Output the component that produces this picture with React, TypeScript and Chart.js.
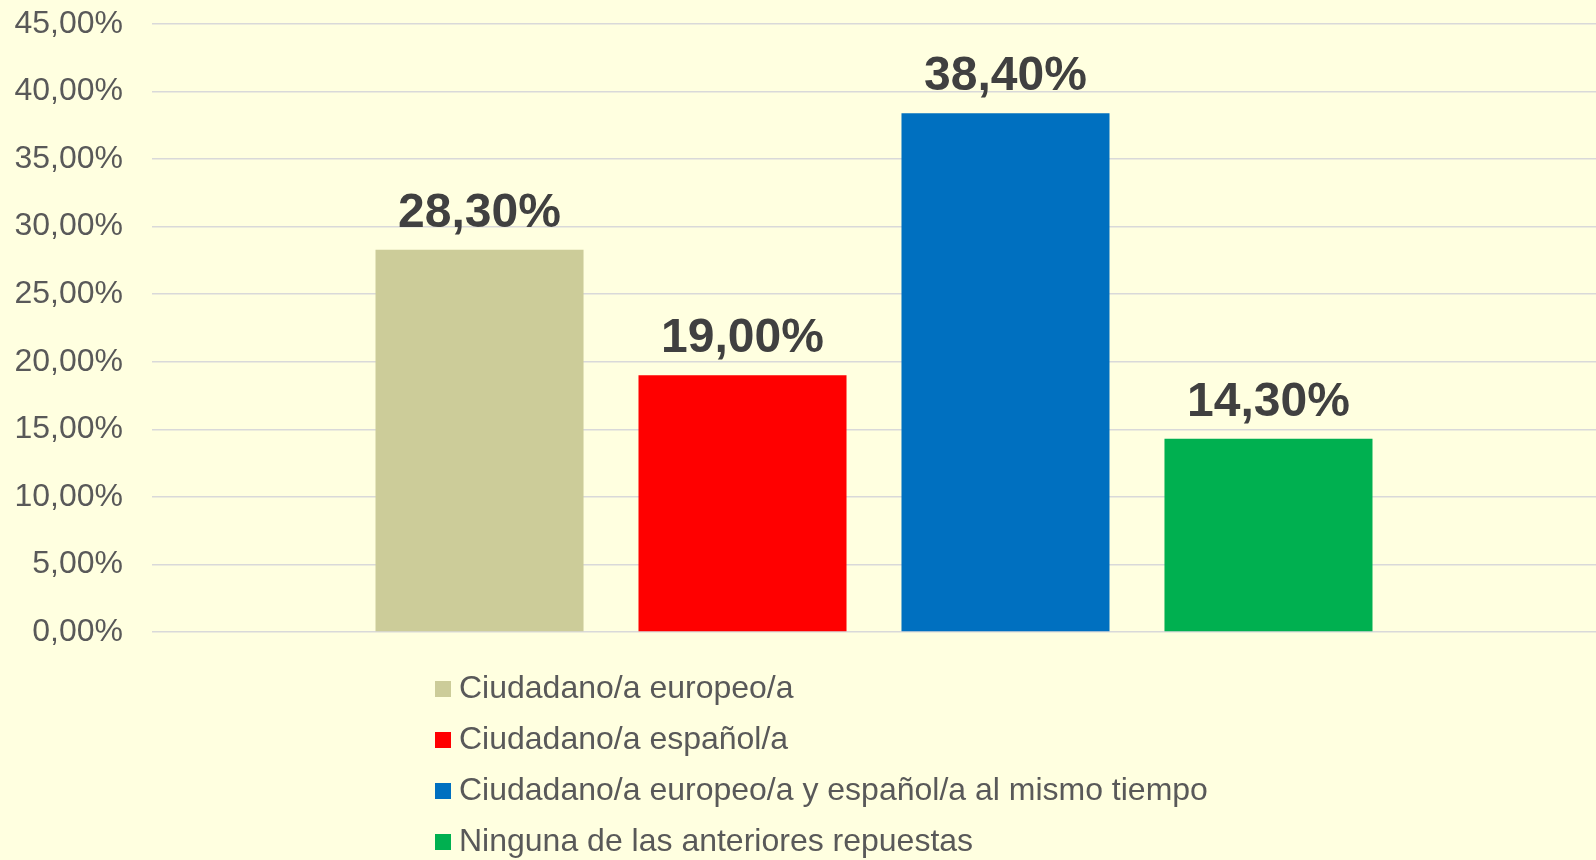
import React, { useEffect, useRef } from 'react';
import { Chart, registerables } from 'chart.js';

Chart.register(...registerables);

const categories = [''];
const seriesLabels = [
  'Ciudadano/a europeo/a',
  'Ciudadano/a español/a',
  'Ciudadano/a europeo/a y español/a al mismo tiempo',
  'Ninguna de las anteriores repuestas',
];
const seriesValues = [28.3, 19.0, 38.4, 14.3];
const seriesColors = ['#CCCC99', '#FF0000', '#0070C0', '#00B050'];
const yMin = 0;
const yMax = 45;
const yStep = 5;

const FONT = '"Liberation Sans", Arial, Helvetica, sans-serif';
const fmt = (v: number) => v.toFixed(2).replace('.', ',') + '%';

const bgPlugin = {
  id: 'bgFill',
  beforeDraw(chart: any) {
    const ctx = chart.ctx;
    ctx.save();
    ctx.fillStyle = '#FFFFE0';
    ctx.fillRect(0, 0, chart.width, chart.height);
    ctx.restore();
  },
};

const valueLabelPlugin = {
  id: 'valueLabels',
  afterDatasetsDraw(chart: any) {
    const ctx = chart.ctx;
    ctx.save();
    ctx.font = `bold 48px ${FONT}`;
    ctx.fillStyle = '#404040';
    ctx.textAlign = 'center';
    ctx.textBaseline = 'alphabetic';
    chart.data.datasets.forEach((ds: any, i: number) => {
      const bar = chart.getDatasetMeta(i).data[0];
      if (!bar) return;
      ctx.fillText(fmt(ds.data[0]), bar.x, bar.y - 23);
    });
    ctx.restore();
  },
};

const legendPlugin = {
  id: 'listLegend',
  afterDraw(chart: any) {
    const ctx = chart.ctx;
    const left = 435;
    const firstBase = 698;
    const step = 51;
    chart.data.datasets.forEach((ds: any, i: number) => {
      const base = firstBase + i * step;
      ctx.save();
      ctx.fillStyle = ds.backgroundColor;
      ctx.fillRect(left, base - 17, 16, 16);
      ctx.font = `32px ${FONT}`;
      ctx.fillStyle = '#595959';
      ctx.textAlign = 'left';
      ctx.textBaseline = 'alphabetic';
      ctx.fillText(ds.label, left + 24, base);
      ctx.restore();
    });
  },
};

export default function App() {
  const canvasRef = useRef<HTMLCanvasElement | null>(null);

  useEffect(() => {
    document.body.style.margin = '0';
    document.body.style.background = '#FFFFE0';
    const canvas = canvasRef.current;
    if (!canvas) return;
    const chart = new Chart(canvas, {
      type: 'bar',
      data: {
        labels: categories,
        datasets: seriesLabels.map((label, i) => ({
          label,
          data: [seriesValues[i]],
          backgroundColor: seriesColors[i],
          borderWidth: 0,
          categoryPercentage: 0.7285,
          barPercentage: 0.791,
        })),
      },
      options: {
        responsive: false,
        animation: false,
        devicePixelRatio: 1,
        layout: { padding: { top: 24, bottom: 228, left: 0, right: 0 } },
        plugins: {
          legend: { display: false },
          tooltip: { enabled: false },
          title: { display: false },
        },
        scales: {
          x: { display: false },
          y: {
            min: yMin,
            max: yMax,
            border: { display: false },
            grid: { color: '#D9D9D9', lineWidth: 1.6, drawTicks: false },
            ticks: {
              stepSize: yStep,
              padding: 29,
              color: '#595959',
              font: { family: FONT, size: 32 },
              callback: (v: any) => fmt(Number(v)),
            },
            afterFit: (scale: any) => {
              scale.width = 152;
              scale.paddingTop = 0;
              scale.paddingBottom = 0;
            },
          },
        },
      },
      plugins: [bgPlugin, valueLabelPlugin, legendPlugin],
    });
    return () => chart.destroy();
  }, []);

  return (
    <div style={{ position: 'absolute', left: 0, top: 0, width: 1596, height: 860, background: '#FFFFE0' }}>
      <canvas ref={canvasRef} width={1596} height={860} style={{ display: 'block' }} />
    </div>
  );
}
